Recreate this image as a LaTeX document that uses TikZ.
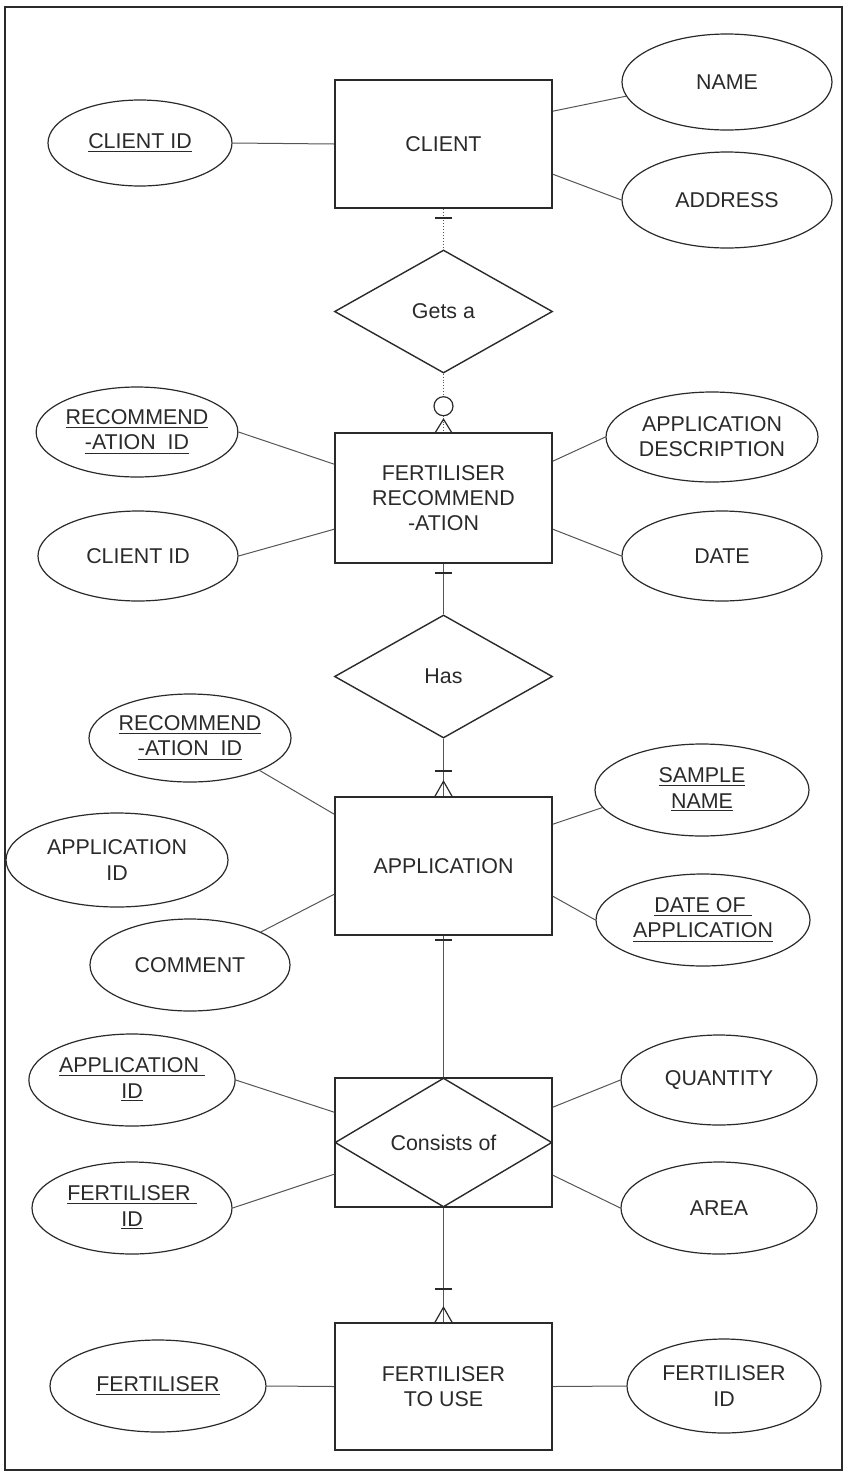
\documentclass[tikz,border=0pt]{standalone}
\usepackage{fontspec}
\setmainfont{Liberation Sans}
\usetikzlibrary{shapes.geometric,calc}
\definecolor{ink}{HTML}{2A2A2A}
\definecolor{wire}{HTML}{555555}
\begin{document}
\begin{tikzpicture}[x=0.5pt,y=-0.5pt,
  every node/.style={font=\fontsize{10.7}{12.6}\selectfont, align=center, inner sep=0pt, text=ink},
  entity/.style={draw=ink, line width=0.8pt, rectangle, minimum width=108.5pt},
  attr/.style 2 args={draw=ink, line width=0.6pt, ellipse, minimum width=#1pt, minimum height=#2pt},
  rel/.style={draw=ink, line width=0.7pt, diamond, minimum width=109pt, minimum height=61.5pt},
  link/.style={draw=wire, line width=0.5pt},
  ident/.style={draw=wire, line width=0.45pt, densely dotted},
  bar/.style={draw=ink, line width=1.1pt},
  foot/.style={draw=ink, line width=0.6pt}]
\useasboundingbox (0,0) rectangle (845,1473);
% frame
\draw[ink, line width=1.1pt] (5,7) rectangle (842,1470);

% entities
\node[entity, minimum height=64pt]   (client) at (443.5,144)    {CLIENT};
\node[entity, minimum height=65pt]   (frec)   at (443.5,498)    {FERTILISER\\RECOMMEND\\-ATION};
\node[entity, minimum height=69pt]   (appl)   at (443.5,866)    {APPLICATION};
\node[entity, minimum height=64.5pt] (cons)   at (443.5,1142.5) {};
\node[entity, minimum height=63.5pt] (ftu)    at (443.5,1386.5) {FERTILISER\\TO USE};

% relationships
\node[rel] (gets) at (443.5,311.5) {Gets a};
\node[rel] (has)  at (443.5,676.5) {Has};
\node[rel, minimum width=108.5pt, minimum height=64.5pt] (consd) at (cons.center) {Consists of};

% attributes
\node[attr={92}{43}]   (cid1)  at (140,143)  {\underline{CLIENT ID}};
\node[attr={105}{48}]  (name)  at (727,82)   {NAME};
\node[attr={105}{48}]  (addr)  at (727,200)  {ADDRESS};
\node[attr={100}{45}]  (rid1)  at (137,432)  {\underline{RECOMMEND}\\\underline{-ATION\ \ ID}};
\node[attr={106}{45}]  (adesc) at (712,437)  {APPLICATION\\DESCRIPTION};
\node[attr={100}{45}]  (cid2)  at (138,556)  {CLIENT ID};
\node[attr={100}{45}]  (date)  at (722,556)  {DATE};
\node[attr={101}{44}]  (rid2)  at (190,738)  {\underline{RECOMMEND}\\\underline{-ATION\ \ ID}};
\node[attr={111}{47}]  (aid1)  at (117,860)  {APPLICATION\\ID};
\node[attr={100}{46}]  (comm)  at (190,965)  {COMMENT};
\node[attr={107}{46}]  (sname) at (702,790)  {\underline{SAMPLE}\\\underline{NAME}};
\node[attr={107}{46}]  (doa)   at (703,920)  {\underline{DATE OF\ }\\\underline{APPLICATION}};
\node[attr={100}{46}]  (aid2)  at (132,1080) {\underline{APPLICATION\ }\\\underline{ID}};
\node[attr={100}{46}]  (fid1)  at (132,1208) {\underline{FERTILISER\ }\\\underline{ID}};
\node[attr={98}{45}]   (qty)   at (719,1080) {QUANTITY};
\node[attr={98}{46}]   (area)  at (719,1208) {AREA};
\node[attr={108}{46}]  (fert)  at (158,1386) {\underline{FERTILISER}};
\node[attr={97}{47}]   (fid2)  at (724,1386) {FERTILISER\\ID};

% attribute links
\draw[link] (cid1.east) -- (client.west);
\draw[link] ($(client.north east)+(0,32)$) -- (name.188);
\draw[link] ($(client.north east)+(0,95)$) -- (addr.west);
\draw[link] (rid1.east) -- ($(frec.north west)+(0,32)$);
\draw[link] ($(frec.north east)+(0,29)$) -- (adesc.west);
\draw[link] (cid2.east) -- ($(frec.north west)+(0,97)$);
\draw[link] ($(frec.north east)+(0,97)$) -- (date.west);
\draw[link] (rid2.-25) -- ($(appl.north west)+(0,18)$);
\draw[link] (comm.25) -- ($(appl.north west)+(0,98)$);
\draw[link] ($(appl.north east)+(0,28)$) -- (sname.190);
\draw[link] ($(appl.north east)+(0,100)$) -- (doa.west);
\draw[link] (aid2.east) -- ($(cons.north west)+(0,35)$);
\draw[link] (fid1.east) -- ($(cons.north west)+(0,97)$);
\draw[link] ($(cons.north east)+(0,30)$) -- (qty.west);
\draw[link] ($(cons.north east)+(0,98)$) -- (area.west);
\draw[link] (fert.east) -- (ftu.west);
\draw[link] (ftu.east) -- (fid2.west);

% CLIENT -- Gets a -- FERTILISER RECOMMENDATION
\draw[ident] (client.south) -- (gets.north);
\draw[bar] ($(client.south)+(-8.5,9)$) -- ++(17,0);
\coordinate (ringc) at ($(frec.north)+(0,-26)$);
\draw[ident] (gets.south) -- ($(ringc)+(0,-9.5)$);
\draw[foot] (ringc) circle[radius=4.75pt];
\draw[ident] ($(ringc)+(0,9.5)$) -- (frec.north);
\draw[foot] ($(frec.north)+(-8,0)$) -- ($(frec.north)+(0,-13)$) -- ($(frec.north)+(8,0)$);

% FERTILISER RECOMMENDATION -- Has -- APPLICATION
\draw[link] (frec.south) -- (has.north);
\draw[bar] ($(frec.south)+(-8.5,9)$) -- ++(17,0);
\draw[link] (has.south) -- (appl.north);
\draw[bar] ($(appl.north)+(-8.5,-25)$) -- ++(17,0);
\draw[foot] ($(appl.north)+(-8.5,0)$) -- ($(appl.north)+(0,-15)$) -- ($(appl.north)+(8.5,0)$);

% APPLICATION -- Consists of -- FERTILISER TO USE
\draw[link] (appl.south) -- (consd.north);
\draw[bar] ($(appl.south)+(-8.5,4)$) -- ++(17,0);
\draw[link] (consd.south) -- (ftu.north);
\draw[bar] ($(ftu.north)+(-8.5,-33)$) -- ++(17,0);
\draw[foot] ($(ftu.north)+(-8.5,0)$) -- ($(ftu.north)+(0,-15)$) -- ($(ftu.north)+(8.5,0)$);
\end{tikzpicture}
\end{document}
